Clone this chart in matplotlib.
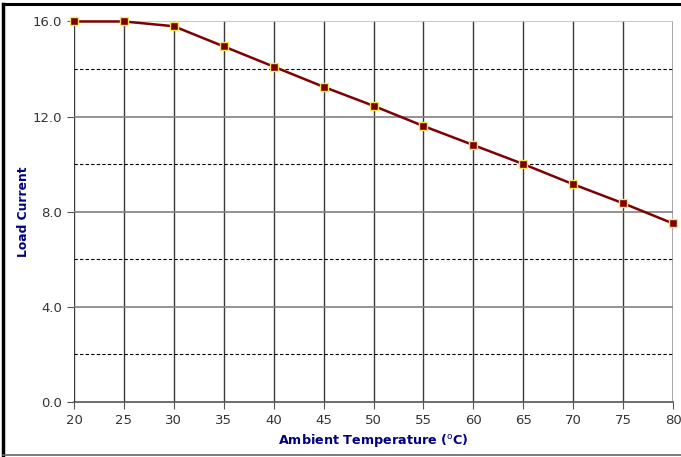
import matplotlib
matplotlib.use("Agg")
import matplotlib.pyplot as plt
from matplotlib.lines import Line2D

# Derating data
temps = [20, 25, 30, 35, 40, 45, 50, 55, 60, 65, 70, 75, 80]
current = [16.0, 16.0, 15.8, 14.95, 14.1, 13.25, 12.45, 11.6, 10.8, 10.0, 9.15, 8.35, 7.5]
y_major = [0, 4, 8, 12, 16]
y_minor = [2, 6, 10, 14]

fig = plt.figure(figsize=(6.81, 4.57), dpi=100)
ax = fig.add_axes([0.1087, 0.121, 0.8796, 0.832])

ax.plot(temps, current, color="#800000", lw=1.8, marker="s", ms=6,
        markerfacecolor="#800000", markeredgecolor="#f5e663", markeredgewidth=1.0,
        zorder=5, clip_on=False)

ax.set_xlim(20, 80)
ax.set_ylim(0, 16)
ax.set_xticks(temps)
ax.set_yticks(y_major)
ax.set_yticklabels([f"{v:.1f}" for v in y_major])
ax.set_yticks(y_minor, minor=True)

# grid: solid verticals & major horizontals, dashed minor horizontals
for t in temps[:-1]:
    ax.axvline(t, color="#3a3a3a", lw=1.0, zorder=1)
ax.axvline(temps[-1], color="#9a9a9a", lw=1.2, zorder=1)
for v in y_major[1:-1]:
    ax.axhline(v, color="#808080", lw=1.2, zorder=1)
ax.axhline(y_major[-1], color="#c0c0c0", lw=1.2, zorder=1)
for v in y_minor:
    ax.axhline(v, color="black", lw=0.8, ls=(0, (3, 2)), zorder=1)

for side in ["top", "right", "left"]:
    ax.spines[side].set_visible(False)
ax.spines["bottom"].set_color("#555555")
ax.spines["bottom"].set_linewidth(1.2)

ax.tick_params(axis="both", which="major", length=5, color="#555555",
               labelsize=9.5, labelcolor="#333333")
ax.tick_params(axis="y", which="minor", length=0)

ax.set_xlabel("Ambient Temperature ($^{\\mathrm{o}}$C)", fontsize=9.2, fontweight="bold",
              color="#000080", labelpad=4)
ax.set_ylabel("Load Current", fontsize=8.8, fontweight="bold", color="#000080",
              labelpad=2)

# outer frame (image is cropped on the right)
fig.add_artist(Line2D([0.004, 0.004], [0.004, 0.991], transform=fig.transFigure,
                      color="black", lw=2.5))
fig.add_artist(Line2D([0.004, 1.0], [0.991, 0.991], transform=fig.transFigure,
                      color="black", lw=2.2))
fig.add_artist(Line2D([0.004, 1.0], [0.005, 0.005], transform=fig.transFigure,
                      color="#666666", lw=1.2))

fig.savefig("out.png", dpi=100)
